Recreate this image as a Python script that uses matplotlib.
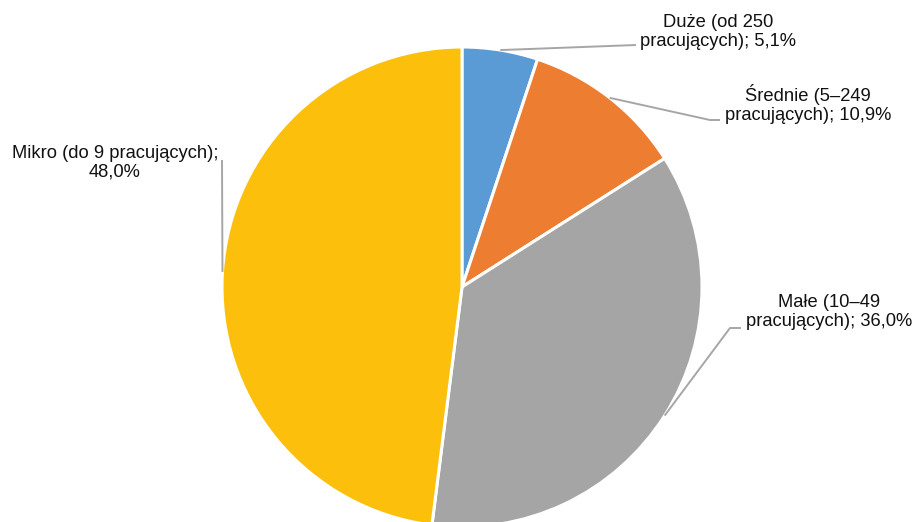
import numpy as np
import matplotlib.pyplot as plt

plt.rcParams['font.family'] = ['Liberation Sans', 'DejaVu Sans']

categories = ['Duże (od 250\npracujących)', 'Średnie (5–249\npracujących)',
              'Małe (10–49\npracujących)', 'Mikro (do 9 pracujących);\n']
shares = [5.1, 10.9, 36.0, 48.0]
colors = ['#5B9BD5', '#ED7D31', '#A5A5A5', '#FBBF0C']

W, H = 915, 522
cx, cy, r = 462, H - 287, 240

fig = plt.figure(figsize=(W / 100, H / 100), dpi=100)
ax = fig.add_axes([0, 0, 1, 1])
ax.pie(shares, colors=colors, center=(cx, cy), radius=r, startangle=90,
       counterclock=False,
       wedgeprops=dict(edgecolor='white', linewidth=2.2))
ax.set_xlim(0, W)
ax.set_ylim(0, H)
ax.set_aspect('equal')
ax.axis('off')

# label layout: (elbow, line end, text centre) in pixels from the top-left
layout = [
    (None, (636, 45), (718, 32)),
    ((710, 120), (720, 120), (808, 104)),
    ((730, 328), (741, 328), (829, 312)),
    (None, (222, 160), (115, 163)),
]

total = sum(shares)
start = 0.0
for name, val, (elbow, end, txt) in zip(categories, shares, layout):
    mid = (start + val / 2) / total * 2 * np.pi
    start += val
    px, py = cx + r * np.sin(mid), cy + r * np.cos(mid)
    pts = [(px, py)]
    if elbow:
        pts.append((elbow[0], H - elbow[1]))
    pts.append((end[0], H - end[1]))
    xs, ys = zip(*pts)
    ax.plot(xs, ys, color='#A6A6A6', lw=1.4, solid_capstyle='butt')
    pct = f'{val:.1f}'.replace('.', ',') + '%'
    label = name + pct if name.endswith('\n') else name + '; ' + pct
    ax.text(txt[0], H - txt[1], label, ha='center', va='center',
            fontsize=13.2, color='#111111', linespacing=1.1)

fig.savefig('out.png', dpi=100)
